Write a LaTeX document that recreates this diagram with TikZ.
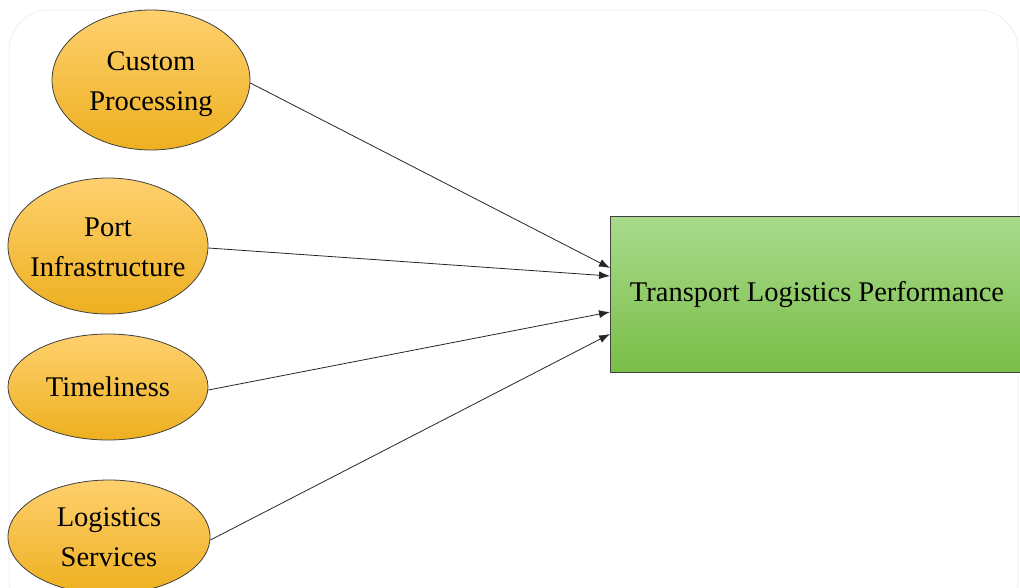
\documentclass[tikz,border=0pt]{standalone}
\usepackage{fontspec}
\setmainfont{Liberation Serif}
\usetikzlibrary{shapes.geometric,arrows.meta}
\definecolor{ovaltop}{RGB}{254,208,110}
\definecolor{ovalbot}{RGB}{238,176,32}
\definecolor{boxtop}{RGB}{168,218,140}
\definecolor{boxbot}{RGB}{122,190,72}
\definecolor{frameline}{RGB}{238,238,238}
\tikzset{
  factor/.style={ellipse, draw=black!75, line width=0.8pt,
    top color=ovaltop, bottom color=ovalbot, inner sep=0pt},
  outcome/.style={rectangle, draw=black!75, line width=0.9pt,
    top color=boxtop, bottom color=boxbot, inner sep=0pt},
  caption/.style={align=center, font=\fontsize{28.5}{40}\selectfont, inner sep=0pt},
  link/.style={-{Latex[length=11pt,width=8pt]}, line width=0.8pt, black!85}
}
\begin{document}
\begin{tikzpicture}[x=1pt,y=-1pt]
\useasboundingbox (0,0) rectangle (1020,587);
\clip (0,0) rectangle (1020,587);
% faint page frame
\draw[frameline, line width=0.8pt, rounded corners=40pt] (9,10) rectangle (1018,620);
% factors (ovals) and their captions
\node[factor, minimum width=198pt, minimum height=140pt] (cp) at (151,80) {};
\node[caption] (cpl) at (151,84) {Custom\\Processing};
\node[factor, minimum width=200pt, minimum height=136pt] (pi) at (108,246) {};
\node[caption] (pil) at (108,247) {Port\\Infrastructure};
\node[factor, minimum width=200pt, minimum height=106pt] (tl) at (108,387) {};
\node[caption] (tll) at (108,387) {Timeliness};
\node[factor, minimum width=202pt, minimum height=114pt] (ls) at (109,537) {};
\node[caption] (lsl) at (109,537) {Logistics\\Services};
% outcome
\node[outcome, minimum width=416pt, minimum height=156pt, anchor=north west] (tp) at (610,216) {};
\node[caption] (tpl) at (817,295) {Transport Logistics Performance};
% connectors
\coordinate (e1) at (610,268);
\coordinate (e2) at (610,276);
\coordinate (e3) at (610,312);
\coordinate (e4) at (610,334);
\draw[link] (cp.east) ++(0,3) -- (e1);
\draw[link] (pi.east) ++(0,2) -- (e2);
\draw[link] (tl.east) ++(0,3) -- (e3);
\draw[link] (ls.east) ++(0,3) -- (e4);
\end{tikzpicture}
\end{document}
